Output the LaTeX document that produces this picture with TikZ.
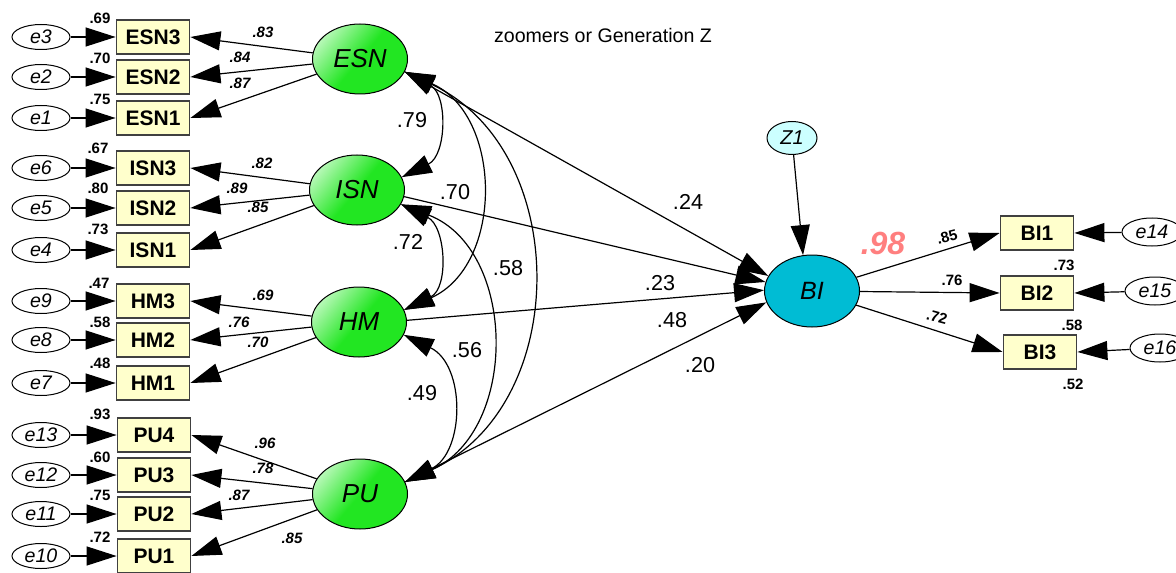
\documentclass[tikz,border=0pt]{standalone}
\usepackage{fontspec}
\setmainfont{Liberation Sans}
\usepackage{tikz}
\usetikzlibrary{arrows.meta,shapes.geometric}

\definecolor{boxfill}{HTML}{FFFFCC}
\definecolor{latgreen}{HTML}{22E622}
\definecolor{latlight}{HTML}{B4F8B4}
\definecolor{bicyan}{HTML}{00BCD4}
\definecolor{zcyan}{HTML}{CCFFFF}
\definecolor{rsq}{HTML}{FF7F7F}

\begin{document}
\begin{tikzpicture}[x=0.5pt,y=-0.5pt,line width=0.6pt,
	>={Triangle[length=15pt,width=9.5pt]},
	obs/.style={draw=black!75,line width=0.9pt,fill=boxfill,minimum width=36.5pt,minimum height=17pt,inner sep=0pt,font=\fontsize{10.5}{12}\selectfont\bfseries},
	err/.style={ellipse,draw,line width=0.5pt,fill=white,minimum width=29pt,minimum height=12.5pt,inner sep=0pt,font=\fontsize{9.8}{11}\selectfont\itshape},
	errb/.style={err,minimum width=30pt,minimum height=14pt},
	lat/.style={ellipse,draw,line width=0.5pt,top color=latlight,bottom color=latgreen,middle color=latgreen,shading angle=50,minimum width=47.5pt,minimum height=35pt,inner sep=0pt,font=\fontsize{13}{15}\selectfont\itshape},
	small/.style={inner sep=0pt,font=\fontsize{7.5}{9}\selectfont\bfseries},
	smallit/.style={inner sep=0pt,font=\fontsize{7.5}{9}\selectfont\bfseries\itshape},
	coef/.style={inner sep=0pt,font=\fontsize{10.8}{13}\selectfont}]
	\useasboundingbox (0,0) rectangle (1176,572);
	\node[font=\fontsize{9.8}{12}\selectfont] (title) at (603,35) {zoomers or Generation Z};

	\node[lat] (ESN) at (360,59) {ESN};
	\node[lat] (ISN) at (357,190) {ISN};
	\node[lat] (HM) at (359,322) {HM};
	\node[lat] (PU) at (360,494) {PU};
	\node[ellipse,draw,line width=0.5pt,fill=bicyan,minimum width=47.5pt,minimum height=36pt,inner sep=0pt,font=\fontsize{12.5}{15}\selectfont\itshape] (BI) at (812,291) {BI};
	\node[ellipse,draw,line width=0.5pt,fill=zcyan,minimum width=25pt,minimum height=16.5pt,inner sep=0pt,font=\fontsize{10}{12}\selectfont\itshape] (Z1) at (792,138) {Z1};

	\node[obs] (ESN3) at (153,37) {ESN3};
	\node[obs] (ESN2) at (153,77) {ESN2};
	\node[obs] (ESN1) at (153,118) {ESN1};
	\node[obs] (ISN3) at (153,168) {ISN3};
	\node[obs] (ISN2) at (153,208) {ISN2};
	\node[obs] (ISN1) at (153,250) {ISN1};
	\node[obs] (HM3) at (153,301) {HM3};
	\node[obs] (HM2) at (153,340) {HM2};
	\node[obs] (HM1) at (153,383) {HM1};
	\node[obs] (PU4) at (154,435) {PU4};
	\node[obs] (PU3) at (154,475) {PU3};
	\node[obs] (PU2) at (154,514) {PU2};
	\node[obs] (PU1) at (154,556) {PU1};
	\node[obs] (BI1) at (1037,233) {BI1};
	\node[obs] (BI2) at (1037,293) {BI2};
	\node[obs] (BI3) at (1040,352) {BI3};

	\node[err] (e3) at (41,37) {e3};
	\node[err] (e2) at (41,77) {e2};
	\node[err] (e1) at (41,118) {e1};
	\node[err] (e6) at (41,168) {e6};
	\node[err] (e5) at (41,208) {e5};
	\node[err] (e4) at (41,250) {e4};
	\node[err] (e9) at (41,301) {e9};
	\node[err] (e8) at (41,340) {e8};
	\node[err] (e7) at (41,383) {e7};
	\node[err] (e13) at (41,435) {e13};
	\node[err] (e12) at (41,475) {e12};
	\node[err] (e11) at (41,514) {e11};
	\node[err] (e10) at (41,556) {e10};
	\node[errb] (e14) at (1152,232) {e14};
	\node[errb] (e15) at (1155,291) {e15};
	\node[errb] (e16) at (1160,348) {e16};

	\draw[->] (e3) -- (ESN3);
	\draw[->] (e2) -- (ESN2);
	\draw[->] (e1) -- (ESN1);
	\draw[->] (e6) -- (ISN3);
	\draw[->] (e5) -- (ISN2);
	\draw[->] (e4) -- (ISN1);
	\draw[->] (e9) -- (HM3);
	\draw[->] (e8) -- (HM2);
	\draw[->] (e7) -- (HM1);
	\draw[->] (e13) -- (PU4);
	\draw[->] (e12) -- (PU3);
	\draw[->] (e11) -- (PU2);
	\draw[->] (e10) -- (PU1);
	\draw[->] (e14) -- (BI1.east);
	\draw[->] (e15) -- (BI2.east);
	\draw[->] (e16) -- (BI3.east);

	\draw[->] (ESN) -- (ESN3.east);
	\draw[->] (ESN) -- (ESN2.east);
	\draw[->] (ESN) -- (ESN1.east);
	\draw[->] (ISN) -- (ISN3.east);
	\draw[->] (ISN) -- (ISN2.east);
	\draw[->] (ISN) -- (ISN1.east);
	\draw[->] (HM) -- (HM3.east);
	\draw[->] (HM) -- (HM2.east);
	\draw[->] (HM) -- (HM1.east);
	\draw[->] (PU) -- (PU4.east);
	\draw[->] (PU) -- (PU3.east);
	\draw[->] (PU) -- (PU2.east);
	\draw[->] (PU) -- (PU1.east);
	\draw[->] (BI) -- (BI1.west);
	\draw[->] (BI) -- (BI2.west);
	\draw[->] (BI) -- (BI3.west);
	\draw[->] (Z1) -- (BI.104);

	\draw[<->] (ESN.-16) .. controls +(43,23) and +(45,-22) .. (ISN.16);
	\draw[<->] (ESN.-16) .. controls +(98,43) and +(100,-45) .. (HM.15);
	\draw[<->] (ESN.-16) .. controls +(167,78) and +(167,-77) .. (PU.15);
	\draw[<->] (ISN.-18) .. controls +(45,22) and +(45,-22) .. (HM.15);
	\draw[<->] (ISN.-18) .. controls +(116,45) and +(114,-52) .. (PU.15);
	\draw[<->] (HM.-16) .. controls +(62,30) and +(60,-30) .. (PU.15);
	\draw[->] (ESN.-16) -- (BI.161);
	\draw[->] (ISN.-8) -- (BI.169);
	\draw[->] (HM.2) -- (BI.179);
	\draw[->] (PU.15) -- (BI.194);

	\node[small] (v3) at (100,18) {.69};
	\node[small] (v2) at (100,58) {.70};
	\node[small] (v1) at (100,99) {.75};
	\node[small] (v6) at (98,148) {.67};
	\node[small] (v5) at (98,188) {.80};
	\node[small] (v4) at (98,229) {.73};
	\node[small] (v9) at (99,283) {.47};
	\node[small] (v8) at (100,322) {.58};
	\node[small] (v7) at (100,363) {.48};
	\node[small] (v13) at (100,414) {.93};
	\node[small] (v12) at (100,457) {.60};
	\node[small] (v11) at (100,495) {.75};
	\node[small] (v10) at (100,537) {.72};
	\node[small] (v14) at (1064,265) {.73};
	\node[small] (v15) at (1072,325) {.58};
	\node[small] (v16) at (1073,384) {.52};

	\node[smallit] (l3) at (263,32) {.83};
	\node[smallit] (l2) at (240,57) {.84};
	\node[smallit] (l1) at (240,83) {.87};
	\node[smallit] (l6) at (262,163) {.82};
	\node[smallit] (l5) at (237,188) {.89};
	\node[smallit] (l4) at (258,207) {.85};
	\node[smallit] (l9) at (263,295) {.69};
	\node[smallit] (l8) at (239,322) {.76};
	\node[smallit] (l7) at (258,342) {.70};
	\node[smallit] (l13) at (265,443) {.96};
	\node[smallit] (l12) at (263,468) {.78};
	\node[smallit] (l11) at (239,495) {.87};
	\node[smallit] (l10) at (292,538) {.85};
	\node[small,rotate=15] (l14) at (947,237) {.85};
	\node[small] (l15) at (952,280) {.76};
	\node[small,rotate=-15] (l16) at (937,317) {.72};

	\node[coef] (c1) at (412,120) {.79};
	\node[coef] (c2) at (455,192) {.70};
	\node[coef] (c3) at (408,242) {.72};
	\node[coef] (c4) at (508,268) {.58};
	\node[coef] (c5) at (467,350) {.56};
	\node[coef] (c6) at (422,393) {.49};
	\node[coef] (b1) at (688,202) {.24};
	\node[coef] (b2) at (660,283) {.23};
	\node[coef] (b3) at (672,320) {.48};
	\node[coef] (b4) at (700,365) {.20};
	\node[text=rsq,inner sep=0pt,font=\fontsize{16}{19}\selectfont\bfseries\itshape] (r2) at (883,243) {.98};
\end{tikzpicture}
\end{document}
